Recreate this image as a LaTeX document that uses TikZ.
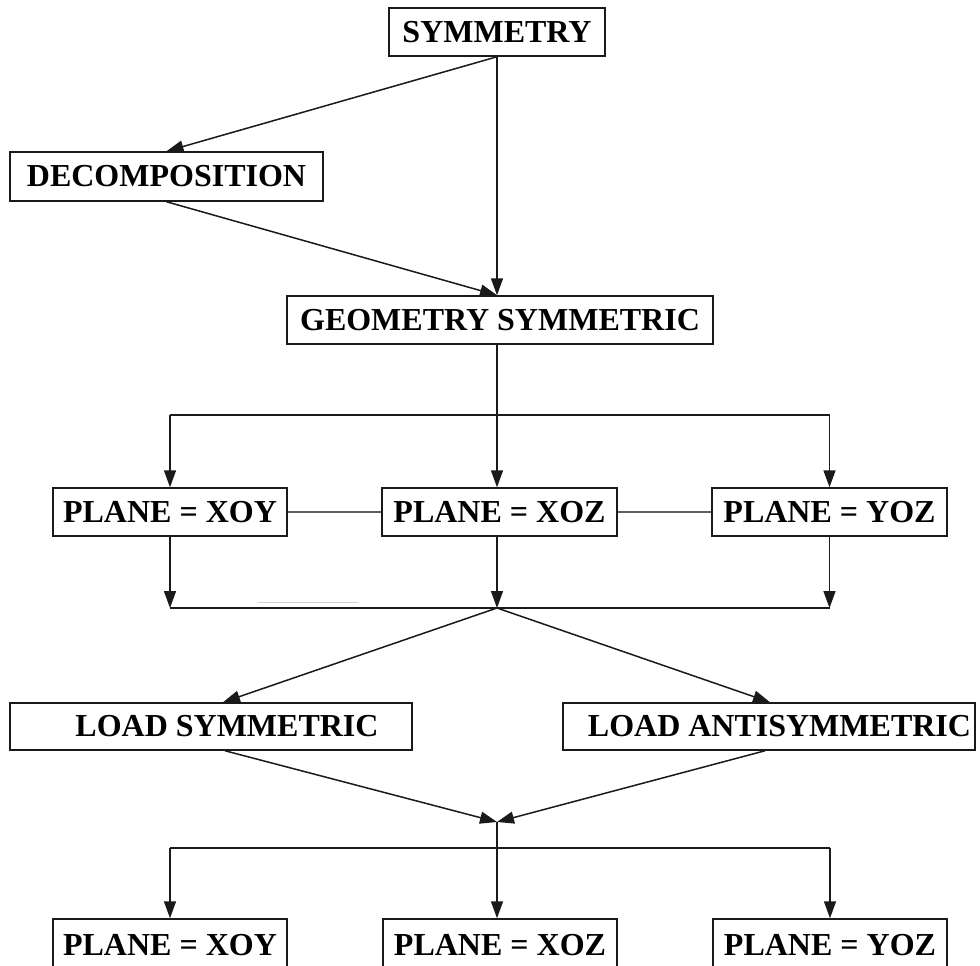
\documentclass[tikz,border=0pt]{standalone}
\usepackage{fontspec}
\setmainfont{Liberation Serif}
\usetikzlibrary{arrows.meta,calc}
\definecolor{ink}{HTML}{1A1A1A}
\tikzset{
  box/.style={draw=ink, line width=1.5pt, inner sep=0pt, text=black,
    font=\bfseries\fontsize{32}{32}\selectfont, minimum height=48pt},
  wire/.style={draw=ink, line width=1.5pt},
  flow/.style={wire, -{Triangle[length=17pt,width=12pt]}},
  link/.style={draw=gray!75!black, line width=1.2pt},
  ghost/.style={draw=gray!35, line width=1pt},
}
\begin{document}
\begin{tikzpicture}[x=1pt,y=-1pt]
\path[use as bounding box, fill=white] (0,0) rectangle (980,966);

% boxes
\node[box, minimum width=216pt] (sym) at (497,32) {SYMMETRY};
\node[box, minimum width=313pt, minimum height=49pt] (dec) at (166.5,176.5) {DECOMPOSITION};
\node[box, minimum width=426pt] (geo) at (500,320) {GEOMETRY SYMMETRIC};

\node[box, minimum width=234pt] (xoyA) at (170,512) {PLANE = XOY};
\node[box, minimum width=235pt] (xozA) at (499.5,512) {PLANE = XOZ};
\node[box, minimum width=235pt] (yozA) at (829.5,512) {PLANE = YOZ};

\node[box, minimum width=402pt, minimum height=47pt] (lsym) at (211,726.5) {\hspace*{32pt}LOAD SYMMETRIC};
\node[box, minimum width=412pt, minimum height=47pt] (lanti) at (769,726.5) {\hspace*{21pt}LOAD ANTISYMMETRIC};

\node[box, minimum width=234pt, minimum height=52pt] (xoyB) at (170,945) {PLANE = XOY};
\node[box, minimum width=234pt, minimum height=52pt] (xozB) at (500,945) {PLANE = XOZ};
\node[box, minimum width=234pt, minimum height=52pt] (yozB) at (830,945) {PLANE = YOZ};

% junction points
\coordinate (split1) at (497,415);
\coordinate (merge1) at (497,608);
\coordinate (merge2) at (497,822);
\coordinate (split2) at (497,848);

% top part
\draw[flow] (sym.south) -- (dec.north);
\draw[flow] (sym.south) -- (sym.south |- geo.north);
\draw[flow] (dec.south) -- (sym.south |- geo.north);

% geometry split into the three planes
\draw[wire] (geo.south -| sym.south) -- (split1);
\draw[wire] (xoyA.north |- split1) -- (yozA.north |- split1);
\draw[flow] (xoyA.north |- split1) -- (xoyA.north);
\draw[flow] (split1) -- (split1 |- xozA.north);
\draw[flow] (yozA.north |- split1) -- (yozA.north);
\draw[link] (xoyA.east) -- (xozA.west);
\draw[link] (xozA.east) -- (yozA.west);

% planes merge again
\draw[flow] (xoyA.south) -- (xoyA.south |- merge1);
\draw[flow] (merge1 |- xozA.south) -- (merge1);
\draw[flow] (yozA.south) -- (yozA.south |- merge1);
\draw[wire] (xoyA.south |- merge1) -- (yozA.south |- merge1);
\draw[ghost] (258,602) -- (358,602);

% load cases
\draw[flow] (merge1) -- ([xshift=12pt]lsym.north);
\draw[flow] (merge1) -- ([xshift=1pt]lanti.north);
\draw[flow] ([xshift=14pt]lsym.south) -- (merge2);
\draw[flow] ([xshift=-4pt]lanti.south) -- (merge2);

% final split
\draw[wire] (merge2) -- (split2);
\draw[wire] (xoyB.north |- split2) -- (yozB.north |- split2);
\draw[flow] (xoyB.north |- split2) -- (xoyB.north);
\draw[flow] (split2) -- (split2 |- xozB.north);
\draw[flow] (yozB.north |- split2) -- (yozB.north);
\end{tikzpicture}
\end{document}
